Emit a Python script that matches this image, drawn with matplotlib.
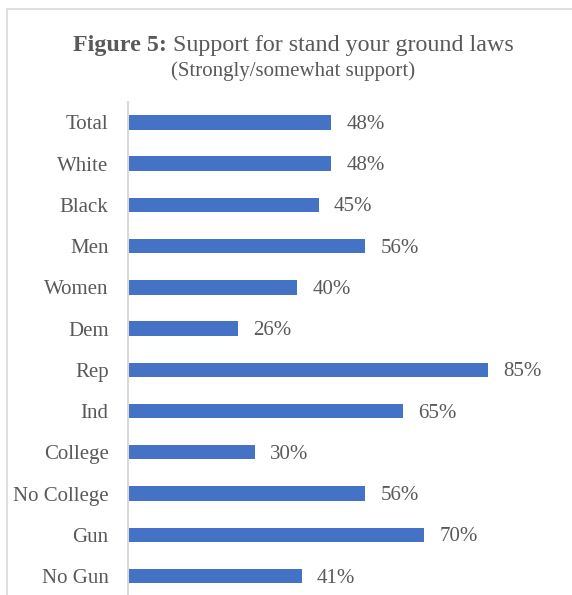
import matplotlib.pyplot as plt
from matplotlib.patches import Rectangle

categories = ['Total', 'White', 'Black', 'Men', 'Women', 'Dem', 'Rep', 'Ind',
              'College', 'No College', 'Gun', 'No Gun']
support = [48, 48, 45, 56, 40, 26, 85, 65, 30, 56, 70, 41]

plt.rcParams['font.family'] = ['Liberation Serif', 'DejaVu Serif']
text_color = '#595959'
bar_color = '#4472C4'
line_color = '#D9D9D9'

fig = plt.figure(figsize=(5.72, 5.95), dpi=100)

# outer chart border (cropped at right and bottom like the screenshot)
fig.patches.append(Rectangle((6.5 / 572, -0.1), 2, 1.1 - 9.5 / 595,
                             transform=fig.transFigure, fill=False,
                             edgecolor=line_color, linewidth=1.2))

ax = fig.add_axes([128 / 572, 1 - 596.6 / 595, 423.5 / 572, (596.6 - 101.8) / 595])
y = list(range(len(categories)))
ax.barh(y, support, height=0.35, color=bar_color)
ax.set_xlim(0, 100)
ax.set_ylim(len(categories) - 0.5, -0.5)

for yi, v in zip(y, support):
    ax.annotate(f'{v}%', (v, yi), xytext=(11, -1.5), textcoords='offset points',
                va='center', ha='left', fontsize=15, color=text_color)

ax.set_yticks(y)
ax.set_yticklabels(categories, fontsize=15, color=text_color)
ax.tick_params(axis='y', length=0, pad=14)
ax.set_xticks([])
for s in ['top', 'right', 'bottom']:
    ax.spines[s].set_visible(False)
ax.spines['left'].set_color(line_color)
ax.spines['left'].set_linewidth(1.5)

# title: bold "Figure 5:" followed by regular text, centred as one line
title_y = 1 - 45 / 595
tb = fig.text(0, title_y, 'Figure 5:', fontsize=17.3, fontweight='bold',
              color=text_color, va='center', ha='left')
tr = fig.text(0, title_y, ' Support for stand your ground laws', fontsize=17.3,
              color=text_color, va='center', ha='left')
fig.canvas.draw()
r = fig.canvas.get_renderer()
w1 = tb.get_window_extent(r).width
w2 = tr.get_window_extent(r).width
x0 = 293 - (w1 + w2) / 2
tb.set_x(x0 / 572)
tr.set_x((x0 + w1) / 572)

fig.text(293 / 572, 1 - 71 / 595, '(Strongly/somewhat support)', fontsize=15,
         color=text_color, ha='center', va='center')

fig.savefig('out.png', dpi=100)
